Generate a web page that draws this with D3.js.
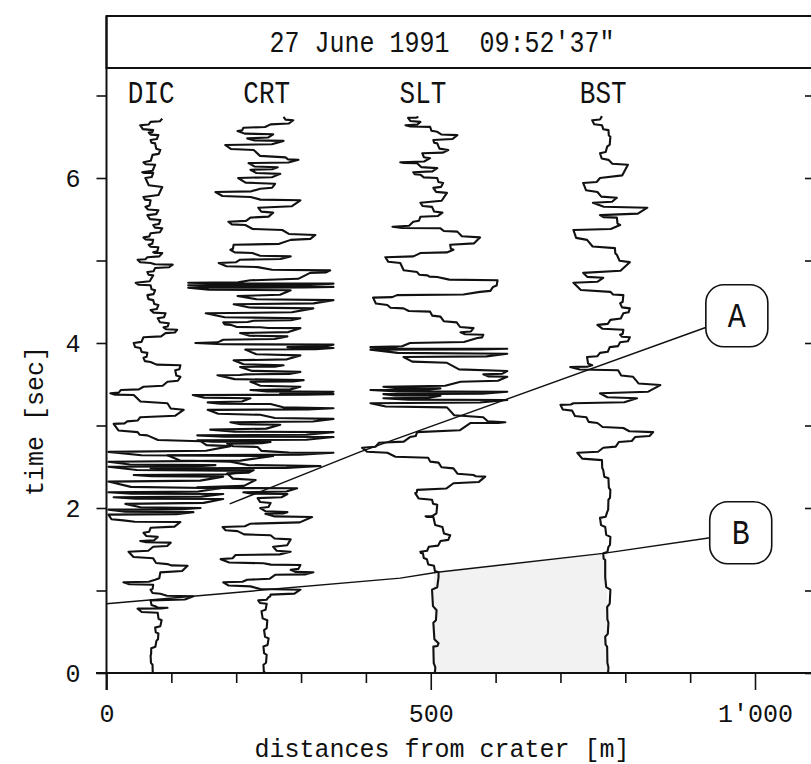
<!DOCTYPE html>
<html>
<head>
<meta charset="utf-8">
<script src="https://cdn.jsdelivr.net/npm/d3@7"></script>
<style>
  body { margin: 0; background: #fff; }
  text { font-family: "Liberation Mono", "DejaVu Sans Mono", monospace; fill: #111; }
</style>
</head>
<body>
<svg id="chart" width="811" height="764"></svg>
<script>
// ---- data (time [s], distance [m]) ----
const title = "27 June 1991  09:52'37\"";
const stations = ["DIC", "CRT", "SLT", "BST"];
const stationLabelPos = [69, 247, 488, 766];

const dicTrace = [[0,72],[0.10,71],[0.21,68],[0.30,69],[0.39,77],[0.48,80],[0.55,75],[0.64,85],[0.73,79],[0.78,48],[0.79,94],[0.81,75],[0.88,68],[0.93,134],[0.96,83],[1.01,68],[1.07,72],[1.10,26],[1.13,75],[1.22,83],[1.30,125],[1.32,94],[1.39,72],[1.47,34],[1.53,72],[1.58,99],[1.60,52],[1.65,79],[1.70,57],[1.76,68],[1.83,114],[1.85,26],[1.92,3],[1.95,134],[1.98,3],[2.00,145],[2.05,29],[2.11,180],[2.13,11],[2.17,180],[2.19,3],[2.24,176],[2.32,3],[2.38,180],[2.40,42],[2.45,222],[2.50,3],[2.52,168],[2.56,3],[2.63,257],[2.68,3],[2.75,191],[2.81,145],[2.88,63],[2.92,48],[3.02,11],[3.05,32],[3.10,52],[3.19,119],[3.27,94],[3.37,42],[3.39,6],[3.43,22],[3.47,57],[3.53,94],[3.59,114],[3.67,106],[3.73,114],[3.77,68],[3.82,57],[3.88,63],[3.94,52],[4.00,42],[4.07,57],[4.12,91],[4.16,109],[4.19,88],[4.24,96],[4.30,79],[4.36,91],[4.40,68],[4.46,80],[4.52,72],[4.58,63],[4.64,75],[4.70,68],[4.73,45],[4.82,72],[4.86,63],[4.91,75],[4.95,102],[4.97,68],[5.01,48],[5.04,63],[5.09,86],[5.10,72],[5.16,80],[5.19,65],[5.25,72],[5.28,57],[5.33,68],[5.39,86],[5.43,72],[5.49,83],[5.55,63],[5.61,80],[5.65,60],[5.73,68],[5.77,57],[5.89,86],[6.00,60],[6.06,72],[6.07,55],[6.16,75],[6.19,57],[6.28,71],[6.34,83],[6.42,75],[6.46,68],[6.52,80],[6.55,65],[6.58,72],[6.64,52],[6.68,68],[6.72,86]];

const crtTrace = [[0,245],[0.10,242],[0.22,247],[0.32,242],[0.42,250],[0.52,243],[0.64,248],[0.75,239],[0.84,247],[0.88,234],[0.92,250],[0.95,253],[1.01,299],[1.05,222],[1.10,180],[1.13,217],[1.19,260],[1.22,319],[1.25,284],[1.31,299],[1.33,242],[1.38,176],[1.43,199],[1.47,284],[1.53,257],[1.62,284],[1.67,253],[1.72,202],[1.77,179],[1.81,222],[1.89,317],[1.93,245],[1.95,279],[2.00,237],[2.06,253],[2.12,233],[2.17,279],[2.19,211],[2.24,294],[2.25,140],[2.34,230],[2.42,186],[2.46,227],[2.48,68],[2.51,330],[2.56,191],[2.64,94],[2.67,350],[2.68,264],[2.74,233],[2.78,186],[2.80,253],[2.82,140],[2.86,350],[2.88,140],[2.92,350],[2.95,160],[3.01,268],[3.04,191],[3.08,350],[3.13,237],[3.19,156],[3.21,350],[3.26,253],[3.28,156],[3.33,222],[3.37,133],[3.38,350],[3.39,268],[3.41,350],[3.43,222],[3.47,299],[3.53,222],[3.55,304],[3.61,171],[3.62,214],[3.65,299],[3.71,206],[3.73,273],[3.79,196],[3.85,299],[3.92,214],[3.94,350],[3.95,279],[3.98,350],[4.00,137],[4.04,180],[4.08,279],[4.12,206],[4.18,299],[4.19,237],[4.22,191],[4.25,180],[4.27,227],[4.30,299],[4.36,153],[4.42,319],[4.47,196],[4.52,350],[4.57,202],[4.64,284],[4.67,126],[4.68,350],[4.70,126],[4.72,350],[4.73,126],[4.76,222],[4.85,314],[4.88,345],[4.92,233],[4.97,173],[5.01,206],[5.05,284],[5.09,225],[5.13,191],[5.19,196],[5.25,284],[5.31,322],[5.37,271],[5.43,214],[5.47,188],[5.52,222],[5.58,257],[5.64,234],[5.73,299],[5.77,222],[5.83,168],[5.87,237],[5.93,260],[6.00,203],[6.05,268],[6.10,222],[6.13,264],[6.18,219],[6.22,296],[6.25,276],[6.34,227],[6.40,183],[6.45,273],[6.48,217],[6.53,257],[6.57,202],[6.61,211],[6.65,253],[6.70,288],[6.74,273]];

const sltTrace = [[0,505],[0.07,507],[0.32,504],[0.36,512],[0.61,504],[0.76,509],[1.01,502],[1.16,512],[1.22,512],[1.30,505],[1.38,494],[1.45,488],[1.47,484],[1.53,497],[1.60,515],[1.67,530],[1.77,518],[1.89,504],[1.90,492],[1.91,504],[2.04,510],[2.10,502],[2.18,476],[2.22,479],[2.30,535],[2.38,584],[2.40,566],[2.48,535],[2.55,512],[2.61,496],[2.67,433],[2.73,394],[2.79,420],[2.86,468],[2.92,479],[3.03,561],[3.04,615],[3.10,581],[3.22,525],[3.27,407],[3.31,618],[3.33,427],[3.36,515],[3.38,427],[3.41,618],[3.43,407],[3.45,515],[3.47,427],[3.53,546],[3.59,618],[3.62,581],[3.66,618],[3.76,525],[3.83,458],[3.87,618],[3.92,407],[3.93,618],[3.95,407],[4.00,468],[4.06,572],[4.10,581],[4.13,546],[4.18,566],[4.25,540],[4.32,515],[4.38,499],[4.42,458],[4.46,433],[4.55,411],[4.58,448],[4.62,576],[4.68,596],[4.76,603],[4.80,510],[4.82,495],[4.86,479],[4.97,453],[5.04,430],[5.09,484],[5.13,535],[5.19,530],[5.28,576],[5.35,541],[5.39,515],[5.41,441],[5.47,473],[5.53,484],[5.58,518],[5.65,502],[5.70,484],[5.82,525],[5.88,504],[5.94,519],[6.00,510],[6.04,484],[6.07,473],[6.12,510],[6.18,479],[6.19,453],[6.24,499],[6.30,487],[6.34,527],[6.42,510],[6.46,504],[6.52,541],[6.56,510],[6.62,499],[6.64,461],[6.68,484],[6.73,465],[6.74,481]];

const bstTrace = [[0,772],[0.07,774],[0.32,772],[0.44,769],[0.61,774],[0.80,772],[1.01,777],[1.16,769],[1.37,769],[1.45,766],[1.53,774],[1.65,777],[1.77,769],[1.88,761],[1.95,772],[2.10,774],[2.22,777],[2.36,774],[2.46,766],[2.58,764],[2.67,726],[2.73,766],[2.80,790],[2.86,815],[2.92,843],[2.97,797],[3.03,757],[3.10,740],[3.18,718],[3.25,700],[3.27,720],[3.33,818],[3.39,761],[3.49,854],[3.59,812],[3.67,789],[3.71,715],[3.73,749],[3.83,741],[3.88,761],[3.95,776],[4.01,792],[4.07,807],[4.10,792],[4.16,797],[4.22,757],[4.28,777],[4.36,797],[4.42,807],[4.48,792],[4.58,797],[4.62,777],[4.73,720],[4.79,766],[4.85,735],[4.98,807],[5.07,787],[5.15,784],[5.25,741],[5.37,720],[5.43,792],[5.52,787],[5.55,761],[5.64,834],[5.70,750],[5.76,787],[5.83,757],[5.94,735],[6.00,761],[6.16,804],[6.22,774],[6.30,761],[6.38,772],[6.50,777],[6.58,774],[6.64,764],[6.70,749],[6.75,764]];

const traces = [dicTrace, crtTrace, sltTrace, bstTrace];

// onset lines, [distance m, time s]
const lineA = [[190,2.05],[391,2.68],[925,4.19]];
const lineB = [[0,0.84],[453,1.15],[510,1.22],[766,1.45],[931,1.64]];
const shade = [[505,0],[505,1.215],[766,1.45],[772,1.455],[772,0]];
const markers = [{label:"A", d:972, t:4.33}, {label:"B", d:978, t:1.70}];

const xTickVals = d3.range(0, 1100, 100);
const xMajor = {0:"0", 500:"500", 1000:"1'000"};
const yTickVals = d3.range(0, 8, 1);
const xTitle = "distances from crater [m]";
const yTitle = "time [sec]";

// plotter-like curve: mostly horizontal move, then a short slanted step
function curveJag(context) {
  let px, py, started;
  return {
    lineStart() { started = false; },
    lineEnd() {},
    areaStart() {},
    areaEnd() {},
    point(x, y) {
      if (!started) { context.moveTo(x, y); started = true; }
      else {
        context.lineTo(px + (x - px) * 0.8, py + (y - py) * 0.2);
        context.lineTo(x, y);
      }
      px = x; py = y;
    }
  };
}

// tall narrow lettering like the old plotter font
const STRETCH = 1.18;
function tallText(sel, tx, ty) {
  return sel.attr("transform", `translate(${tx},${ty}) scale(1,${STRETCH})`);
}

// ---- chart ----
const svg = d3.select("#chart");
const x = d3.scaleLinear().domain([0, 1000]).range([106.5, 755]);
const y = d3.scaleLinear().domain([0, 7]).range([673, 95.5]);

/* light shading between SLT and BST under line B */
svg.append("path")
  .datum(shade)
  .attr("d", d3.line().x(d => x(d[0])).y(d => y(d[1])))
  .attr("fill", "#f2f2f2");

/* frame + title box */
svg.append("rect")
  .attr("x", 106.5).attr("y", 16)
  .attr("width", 720).attr("height", 52)
  .attr("fill", "none").attr("stroke", "#111").attr("stroke-width", 2);

svg.append("line")
  .attr("x1", 106.5).attr("x2", 106.5).attr("y1", 16).attr("y2", 690)
  .attr("stroke", "#111").attr("stroke-width", 2);

tallText(svg.append("text"), 442, 52)
  .attr("text-anchor", "middle")
  .attr("font-size", 25)
  .style("white-space", "pre")
  .text(title);

/* y axis (left) */
const yAxis = svg.append("g")
  .attr("transform", "translate(106.5,0)")
  .call(d3.axisLeft(y).tickValues(yTickVals).tickSize(10).tickSizeOuter(0)
    .tickFormat(d => d % 2 === 0 ? d : ""));
yAxis.select(".domain").remove();
yAxis.selectAll("line").attr("stroke", "#111").attr("stroke-width", 1.6);
yAxis.selectAll("text").attr("x", -26).attr("font-size", 25).attr("fill", "#111");

/* right side ticks */
const yRight = svg.append("g")
  .attr("transform", "translate(812,0)")
  .call(d3.axisLeft(y).tickValues(yTickVals).tickSize(7).tickSizeOuter(0).tickFormat(""));
yRight.select(".domain").attr("stroke", "#111").attr("stroke-width", 2);
yRight.selectAll("line").attr("stroke", "#111").attr("stroke-width", 1.6);

/* x axis */
const xAxis = svg.append("g")
  .attr("transform", "translate(0,673)")
  .call(d3.axisBottom(x).tickValues(xTickVals).tickSize(10).tickSizeOuter(0)
    .tickFormat(d => xMajor[d] || ""));
xAxis.select(".domain").remove();
xAxis.selectAll(".tick line")
  .attr("y2", d => xMajor[d] ? 17 : 10)
  .attr("stroke", "#111").attr("stroke-width", 1.6);
xAxis.selectAll("text").attr("y", 49).attr("dy", null).attr("font-size", 25).attr("fill", "#111");

svg.append("line")
  .attr("x1", 96).attr("x2", 811).attr("y1", 673).attr("y2", 673)
  .attr("stroke", "#111").attr("stroke-width", 2);

/* axis titles */
svg.append("text")
  .attr("x", 442).attr("y", 757)
  .attr("text-anchor", "middle").attr("font-size", 25)
  .text(xTitle);

svg.append("text")
  .attr("transform", "translate(43,421) rotate(-90)")
  .attr("text-anchor", "middle").attr("font-size", 25)
  .text(yTitle);

/* station names */
svg.selectAll(".station")
  .data(stations)
  .enter().append("text")
  .attr("class", "station")
  .attr("transform", (d, i) => `translate(${x(stationLabelPos[i])},103) scale(1,${STRETCH})`)
  .attr("text-anchor", "middle").attr("font-size", 26)
  .text(d => d);

/* onset lines A and B */
const onset = d3.line().x(d => x(d[0])).y(d => y(d[1]));
svg.selectAll(".onset")
  .data([lineA, lineB])
  .enter().append("path")
  .attr("class", "onset")
  .attr("d", onset)
  .attr("fill", "none").attr("stroke", "#111").attr("stroke-width", 1.5);

/* seismogram traces */
const wiggle = d3.line()
  .x(d => x(d[1]))
  .y(d => y(d[0]))
  .curve(curveJag);

svg.append("g")
  .selectAll("path")
  .data(traces)
  .enter().append("path")
  .attr("d", wiggle)
  .attr("fill", "none")
  .attr("stroke", "#111")
  .attr("stroke-width", 2.1)
  .attr("stroke-linejoin", "round");

/* A / B labels */
const mk = svg.selectAll(".marker")
  .data(markers)
  .enter().append("g")
  .attr("class", "marker")
  .attr("transform", d => `translate(${x(d.d)},${y(d.t)})`);

mk.append("rect")
  .attr("x", -31).attr("y", -31).attr("width", 62).attr("height", 62)
  .attr("rx", 18)
  .attr("fill", "#fff").attr("stroke", "#111").attr("stroke-width", 1.6);

mk.append("text")
  .attr("text-anchor", "middle")
  .attr("transform", `translate(0,11) scale(1,${STRETCH})`)
  .attr("font-size", 30)
  .text(d => d.label);
</script>
</body>
</html>
